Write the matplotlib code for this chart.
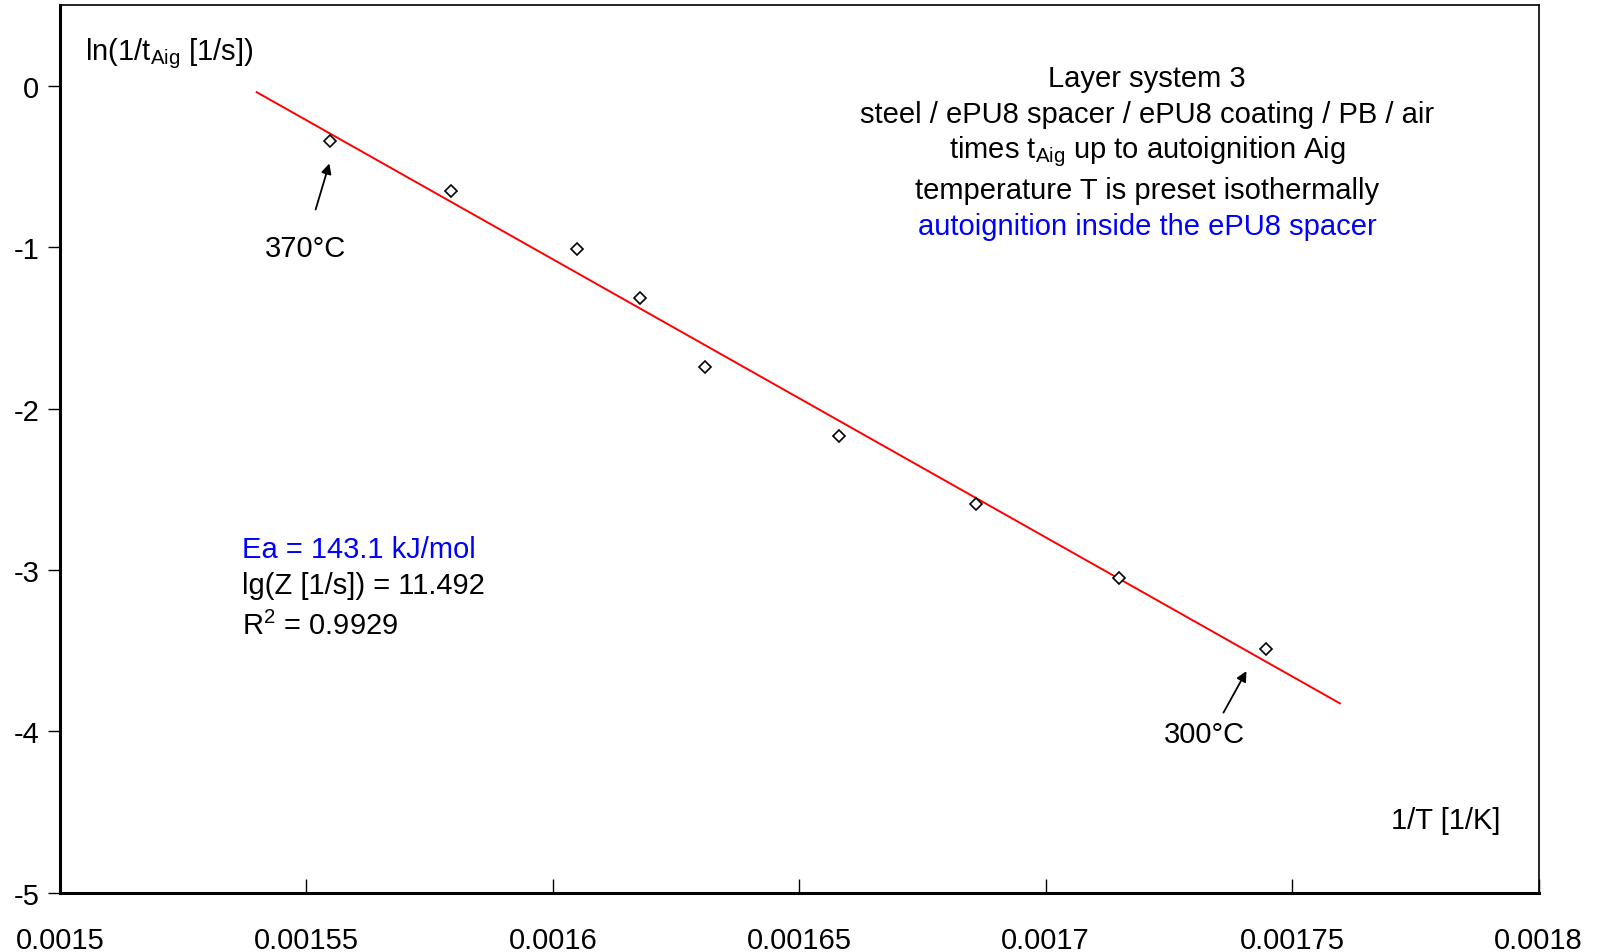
import matplotlib
matplotlib.use("Agg")
import matplotlib.pyplot as plt
import numpy as np

plt.rcParams['font.family'] = ['Liberation Sans', 'DejaVu Sans']

# measured points: 1/T [1/K] and ln(1/tAig)
inv_T = [0.0015548, 0.0015794, 0.0016049, 0.0016177, 0.0016309,
         0.0016580, 0.0016859, 0.0017148, 0.0017447]
ln_rate = [-0.344, -0.650, -1.013, -1.312, -1.745, -2.172, -2.592, -3.051, -3.490]

# regression line end points
fit_x = [0.0015399, 0.0017597]
fit_y = [-0.040, -3.826]

xticks = [0.0015, 0.00155, 0.0016, 0.00165, 0.0017, 0.00175, 0.0018]
xtick_labels = ['0.0015', '0.00155', '0.0016', '0.00165', '0.0017', '0.00175', '0.0018']
yticks = [0, -1, -2, -3, -4, -5]

fs = 21

fig = plt.figure(figsize=(16.06, 9.53), dpi=100)
ax = fig.add_axes([0.0374, 0.062, 0.9206, 0.9317])

ax.plot(fit_x, fit_y, color='red', lw=1.4)
ax.plot(inv_T, ln_rate, ls='none', marker='D', ms=6.5, mfc='white', mec='black', mew=1.2)

ax.set_xlim(0.0015, 0.0018)
ax.set_ylim(-5, 0.5)
ax.set_xticks(xticks)
ax.set_xticklabels(xtick_labels)
ax.set_yticks(yticks)
ax.set_yticklabels([str(t) for t in yticks])
ax.tick_params(axis='x', direction='in', length=10, width=1, pad=24, labelsize=fs)
ax.tick_params(axis='y', direction='out', length=9, width=1, pad=6, labelsize=fs)

for s in ['left', 'bottom']:
    ax.spines[s].set_linewidth(2.2)
for s in ['top', 'right']:
    ax.spines[s].set_linewidth(1.2)

ax.text(0.001505, 0.205, r'ln(1/t$_{\mathregular{Aig}}$ [1/s])',
        fontsize=fs, ha='left', va='center')
ax.text(0.0017923, -4.548, '1/T [1/K]', fontsize=fs, ha='right', va='center')

# description block
cx = 0.0017206
ax.text(cx, 0.05, 'Layer system 3', fontsize=fs, ha='center', va='center')
ax.text(cx, -0.173, 'steel / ePU8 spacer / ePU8 coating / PB / air', fontsize=fs, ha='center', va='center')
ax.text(cx, -0.402, r'times t$_{\mathregular{Aig}}$ up to autoignition Aig', fontsize=fs, ha='center', va='center')
ax.text(cx, -0.644, 'temperature T is preset isothermally', fontsize=fs, ha='center', va='center')
ax.text(cx, -0.870, 'autoignition inside the ePU8 spacer', fontsize=fs, ha='center', va='center', color='blue')

# fit results
ax.text(0.001537, -2.872, 'Ea = 143.1 kJ/mol', fontsize=fs, ha='left', va='center', color='blue')
ax.text(0.001537, -3.092, 'lg(Z [1/s]) = 11.492', fontsize=fs, ha='left', va='center')
ax.text(0.001537, -3.345, r'R$^{\mathregular{2}}$ = 0.9929', fontsize=fs, ha='left', va='center')

# temperature arrows
ax.annotate('', xy=(0.0015548, -0.465), xytext=(0.0015517, -0.783),
            arrowprops=dict(arrowstyle='-|>', color='black', lw=1.3, mutation_scale=15))
ax.text(0.0015499, -1.005, '370°C', fontsize=fs, ha='center', va='center')
ax.annotate('', xy=(0.0017410, -3.611), xytext=(0.0017358, -3.898),
            arrowprops=dict(arrowstyle='-|>', color='black', lw=1.3, mutation_scale=15))
ax.text(0.0017323, -4.013, '300°C', fontsize=fs, ha='center', va='center')

fig.savefig('out.png', dpi=100)
